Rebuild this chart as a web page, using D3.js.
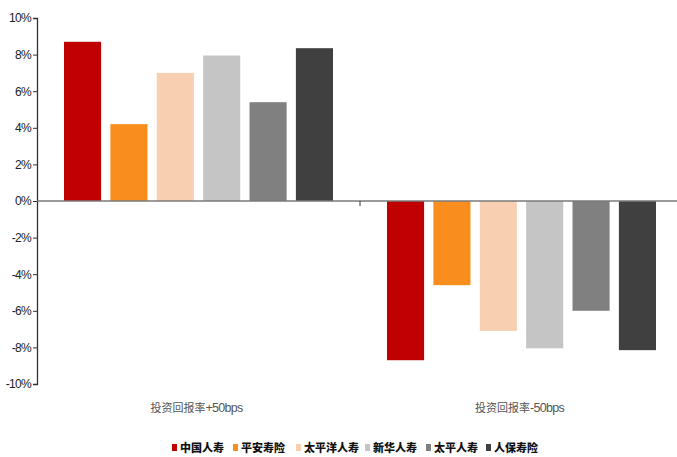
<!DOCTYPE html>
<html>
<head>
<meta charset="utf-8">
<script src="https://cdn.jsdelivr.net/npm/d3@7/dist/d3.min.js"></script>
<style>
  html, body { margin: 0; padding: 0; background: #fff; }
  svg { display: block; }
</style>
</head>
<body>
<svg id="chart" width="677" height="457"></svg>
<script>
// Scenario groups along the x axis
const scenarios = ["投资回报率+50bps", "投资回报率-50bps"];
// Insurers (one bar each per scenario)
const companies = ["中国人寿", "平安寿险", "太平洋人寿", "新华人寿", "太平人寿", "人保寿险"];
const colors = ["#C00000", "#F98E1F", "#F8D0B1", "#C5C5C5", "#808080", "#404040"];
// Change in value, percent, for each scenario
const upValues = [8.7, 4.2, 7.0, 7.95, 5.4, 8.35];
const downValues = [-8.7, -4.6, -7.1, -8.05, -6.0, -8.15];
const yTicks = [-10, -8, -6, -4, -2, 0, 2, 4, 6, 8, 10];

const series = [upValues, downValues];
const rows = [];
scenarios.forEach((s, i) => {
  companies.forEach((c, j) => rows.push({ scenario: s, company: c, value: series[i][j], color: colors[j] }));
});

const latin = "'Liberation Sans', Arial, sans-serif";
const svg = d3.select("#chart");
const x0 = d3.scaleBand().domain(scenarios).range([37, 683]).paddingInner(0).paddingOuter(0);
const x1 = d3.scaleBand().domain(companies).range([27, 296]).paddingInner(0.2).paddingOuter(0);
const y = d3.scaleLinear().domain([-10, 10]).range([384, 18]);

// Bars
svg.append("g").selectAll("rect").data(rows).join("rect")
  .attr("x", d => x0(d.scenario) + x1(d.company))
  .attr("width", x1.bandwidth())
  .attr("y", d => y(Math.max(0, d.value)))
  .attr("height", d => Math.abs(y(d.value) - y(0)))
  .attr("fill", d => d.color);

// Y axis
const yAxis = svg.append("g").attr("transform", "translate(37,0)")
  .call(d3.axisLeft(y).tickValues(yTicks).tickSize(4).tickFormat(d => d + "%"));
yAxis.select(".domain").attr("stroke", "#333").attr("stroke-width", 1.3);
yAxis.selectAll(".tick line").attr("stroke", "#333");
yAxis.selectAll(".tick text")
  .attr("font-family", latin)
  .attr("font-size", 12).attr("letter-spacing", -0.7).attr("fill", "#222").attr("x", -6);

// Zero baseline with a tick between the two groups
svg.append("line").attr("x1", 37).attr("x2", 677).attr("y1", y(0)).attr("y2", y(0))
  .attr("stroke", "#7a7a7a").attr("stroke-width", 1.6);
svg.append("line").attr("x1", x0(scenarios[1])).attr("x2", x0(scenarios[1]))
  .attr("y1", y(0)).attr("y2", y(0) + 5).attr("stroke", "#333").attr("stroke-width", 1);

// Scenario labels: Chinese part and Latin part set in separate faces
const lab = svg.append("g").selectAll("text").data(scenarios).join("text")
  .attr("x", d => x0(d) + x0.bandwidth() / 2 - 2)
  .attr("y", 412)
  .attr("text-anchor", "middle")
  .attr("fill", "#555");
lab.append("tspan")
  .attr("font-family", "'Noto Sans CJK SC', sans-serif").attr("font-size", 11)
  .text(d => d.slice(0, 5));
lab.append("tspan")
  .attr("font-family", latin).attr("font-size", 12.5).attr("letter-spacing", -0.7)
  .text(d => d.slice(5));

// Legend
const legendX = [172, 233, 296, 365, 426, 486];
const legend = svg.append("g").selectAll("g").data(companies).join("g")
  .attr("transform", (d, i) => `translate(${legendX[i]},0)`);
legend.append("rect").attr("x", 0).attr("y", 444).attr("width", 5).attr("height", 7)
  .attr("fill", (d, i) => colors[i]);
legend.append("text").attr("x", 8).attr("y", 452)
  .attr("font-family", "'Noto Sans CJK SC', sans-serif").attr("font-weight", 900)
  .attr("font-size", 11).attr("fill", "#111")
  .text(d => d);
</script>
</body>
</html>
